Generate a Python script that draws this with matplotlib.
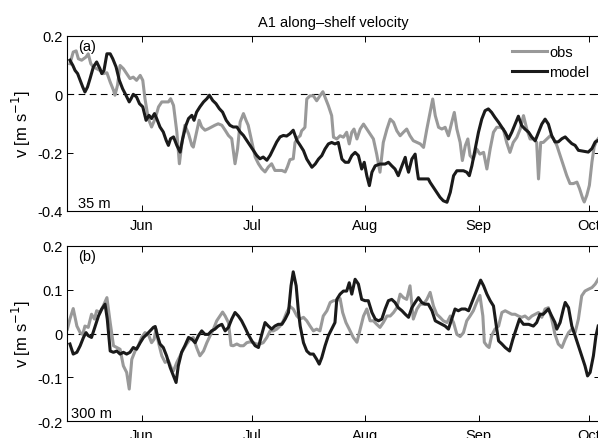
import numpy as np
import matplotlib
matplotlib.use('Agg')
import matplotlib.pyplot as plt

plt.rcParams['font.family'] = ['Liberation Sans', 'DejaVu Sans']

# days since 1 June, velocity [m/s]
obs_35 = [(-19.7,0.105),(-18.8,0.145),(-18.0,0.149),(-17.4,0.122),(-16.5,0.117),(-15.3,0.128),
          (-14.7,0.139),(-14.0,0.105),(-13.3,0.094),(-12.4,0.088),(-11.5,0.082),(-10.6,0.071),
          (-9.6,0.074),(-8.7,0.042),(-7.8,0.014),(-7.4,-0.003),(-6.7,0.031),(-6.0,0.099),
          (-5.1,0.088),(-4.2,0.071),(-3.3,0.054),(-2.4,0.059),(-1.5,0.048),(-0.5,0.065),
          (0.2,0.048),(0.8,-0.015),(1.7,-0.083),(2.6,-0.112),(3.6,-0.083),(4.5,-0.043),
          (5.4,-0.026),(6.3,-0.026),(7.2,-0.026),(7.8,-0.015),(8.6,-0.038),(9.5,-0.129),
          (10.2,-0.238),(10.8,-0.175),(11.7,-0.106),(12.7,-0.135),(13.6,-0.175),(14.0,-0.181),
          (14.9,-0.129),(15.6,-0.089),(16.3,-0.112),(17.2,-0.123),(18.1,-0.118),(19.0,-0.112),
          (19.9,-0.106),(20.8,-0.101),(21.8,-0.106),(22.7,-0.123),(23.6,-0.141),(24.5,-0.152),
          (25.4,-0.238),(26.1,-0.186),(26.8,-0.095),(27.7,-0.066),(28.4,-0.089),(29.0,-0.106),
          (30.0,-0.163),(30.9,-0.215),(31.8,-0.238),(32.7,-0.255),(33.6,-0.266),(34.5,-0.249),
          (35.4,-0.238),(36.3,-0.261),(37.2,-0.261),(38.2,-0.261),(39.1,-0.266),(39.7,-0.249),
          (40.4,-0.224),(41.3,-0.221),(41.8,-0.165),(42.7,-0.147),(43.2,-0.142),(43.6,-0.125),
          (44.1,-0.119),(44.5,-0.113),(45.0,-0.016),(45.9,-0.005),(46.8,-0.005),(47.7,-0.022),
          (48.6,-0.005),(49.4,0.009),(50.0,-0.010),(50.9,-0.039),(51.8,-0.073),(52.3,-0.147),
          (53.2,-0.153),(54.1,-0.142),(55.0,-0.147),(55.9,-0.130),(56.6,-0.170),(57.3,-0.130),
          (57.9,-0.119),(58.7,-0.153),(59.6,-0.119),(60.5,-0.102),(61.4,-0.119),(62.3,-0.136),
          (63.2,-0.153),(64.1,-0.205),(65.0,-0.267),(65.9,-0.165),(66.9,-0.119),(67.8,-0.085),
          (68.7,-0.096),(69.6,-0.125),(70.5,-0.142),(71.4,-0.130),(72.3,-0.119),(73.2,-0.142),
          (74.1,-0.159),(75.1,-0.165),(76.0,-0.170),(76.9,-0.182),(77.8,-0.119),(78.7,-0.062),
          (79.4,-0.016),(80.1,-0.073),(81.0,-0.113),(81.9,-0.119),(82.8,-0.113),(83.7,-0.142),
          (84.6,-0.096),(85.3,-0.062),(86.0,-0.119),(86.9,-0.165),(87.5,-0.227),(88.3,-0.176),
          (89.0,-0.153),(89.6,-0.210),(90.5,-0.222),(91.4,-0.187),(92.3,-0.205),(93.3,-0.199),
          (94.2,-0.256),(95.1,-0.187),(96.0,-0.130),(96.9,-0.113),(97.8,-0.113),(98.7,-0.119),
          (99.6,-0.165),(100.5,-0.199),(101.4,-0.165),(102.4,-0.147),(103.3,-0.119),(104.2,-0.073),
          (105.1,-0.119),(106.0,-0.153),(106.9,-0.153),(107.8,-0.165),(108.3,-0.290),(108.9,-0.165),
          (109.6,-0.165),(110.6,-0.153),(111.5,-0.142),(112.4,-0.152),(113.3,-0.175),(114.2,-0.209),
          (115.1,-0.243),(116.0,-0.278),(116.9,-0.306),(117.8,-0.306),(118.8,-0.301),(119.5,-0.323),
          (120.4,-0.358),(120.8,-0.369),(121.5,-0.346),(122.2,-0.312),(122.9,-0.232),(123.5,-0.181),
          (124.2,-0.158),(124.6,-0.152)]

model_35 = [(-19.7,0.117),(-18.9,0.099),(-18.3,0.082),(-17.6,0.071),(-16.9,0.048),(-16.2,0.025),
            (-15.6,0.008),(-14.9,0.025),(-14.2,0.054),(-13.3,0.094),(-12.4,0.111),(-11.5,0.088),
            (-11.0,0.071),(-10.4,0.082),(-9.6,0.139),(-8.7,0.139),(-8.0,0.122),(-7.1,0.094),
            (-6.2,0.048),(-5.3,0.019),(-4.4,-0.003),(-3.5,-0.026),(-3.0,-0.015),(-2.4,0.000),
            (-1.5,-0.009),(-0.7,-0.032),(0.2,-0.043),(1.1,-0.089),(1.9,-0.072),(2.6,-0.083),
            (3.4,-0.066),(4.0,-0.083),(4.9,-0.112),(5.8,-0.129),(6.6,-0.158),(7.2,-0.175),
            (7.8,-0.152),(8.6,-0.146),(9.5,-0.175),(10.4,-0.198),(11.1,-0.152),(12.0,-0.106),
            (12.7,-0.083),(13.6,-0.072),(14.2,-0.089),(14.9,-0.061),(15.8,-0.043),(16.8,-0.026),
            (17.7,-0.015),(18.4,-0.003),(19.3,-0.021),(20.2,-0.032),(21.1,-0.049),(22.0,-0.061),
            (23.0,-0.089),(24.0,-0.106),(24.9,-0.112),(25.9,-0.112),(26.8,-0.129),(27.7,-0.141),
            (28.6,-0.158),(29.5,-0.175),(30.4,-0.192),(31.3,-0.209),(32.2,-0.221),(33.1,-0.215),
            (34.1,-0.226),(35.0,-0.209),(35.9,-0.186),(36.8,-0.163),(37.7,-0.146),(38.6,-0.141),
            (39.5,-0.143),(40.4,-0.135),(41.3,-0.123),(42.3,-0.158),(43.2,-0.175),(44.1,-0.193),
            (45.0,-0.222),(46.4,-0.250),(47.3,-0.239),(48.2,-0.222),(49.1,-0.210),(50.0,-0.187),
            (50.9,-0.170),(51.8,-0.165),(52.7,-0.170),(53.6,-0.165),(54.6,-0.222),(55.5,-0.233),
            (56.4,-0.233),(57.3,-0.210),(58.2,-0.199),(59.1,-0.210),(60.0,-0.256),(60.7,-0.233),
            (61.4,-0.279),(62.1,-0.313),(62.8,-0.267),(63.7,-0.245),(65.0,-0.239),(66.4,-0.239),
            (67.3,-0.233),(68.2,-0.245),(69.1,-0.256),(70.0,-0.279),(71.0,-0.245),(71.9,-0.216),
            (72.3,-0.245),(72.8,-0.267),(73.7,-0.222),(74.6,-0.205),(75.1,-0.256),(75.5,-0.290),
            (76.4,-0.290),(77.3,-0.290),(78.2,-0.290),(78.7,-0.302),(79.6,-0.319),(80.5,-0.336),
            (81.4,-0.353),(82.3,-0.365),(83.3,-0.370),(84.2,-0.336),(85.1,-0.279),(86.0,-0.262),
            (86.9,-0.262),(87.8,-0.262),(88.7,-0.267),(89.4,-0.279),(90.1,-0.245),(91.0,-0.187),
            (91.9,-0.130),(92.8,-0.085),(93.7,-0.056),(94.6,-0.050),(95.5,-0.062),(96.4,-0.079),
            (97.4,-0.096),(98.3,-0.113),(99.2,-0.130),(100.1,-0.153),(101.0,-0.130),(101.9,-0.102),
            (102.8,-0.075),(103.7,-0.107),(104.6,-0.119),(105.6,-0.130),(106.5,-0.147),(107.4,-0.159),
            (108.3,-0.130),(109.2,-0.102),(110.1,-0.085),(111.0,-0.102),(111.9,-0.141),(112.8,-0.163),
            (113.7,-0.163),(114.7,-0.152),(115.6,-0.146),(116.5,-0.158),(117.4,-0.169),(118.3,-0.175),
            (119.2,-0.192),(120.6,-0.195),(121.9,-0.198),(122.9,-0.186),(123.8,-0.163),(124.6,-0.158)]

obs_300 = [(-20.4,0.010),(-19.7,0.033),(-18.8,0.057),(-17.8,0.017),(-16.9,0.002),(-16.2,-0.002),
           (-15.6,0.017),(-14.7,0.014),(-13.8,0.044),(-13.0,0.033),(-12.4,0.052),(-11.5,0.048),
           (-10.6,0.063),(-9.6,0.082),(-8.7,0.025),(-7.8,-0.028),(-6.9,-0.032),(-6.0,-0.036),
           (-5.1,-0.074),(-4.2,-0.089),(-3.5,-0.127),(-2.8,-0.059),(-1.9,-0.040),(-1.0,-0.028),
           (-0.1,-0.009),(0.8,0.002),(1.7,-0.002),(2.6,-0.021),(3.3,-0.013),(3.8,0.010),
           (4.5,-0.021),(5.4,-0.051),(6.3,-0.066),(7.2,-0.062),(8.1,-0.081),(8.6,-0.085),
           (9.5,-0.066),(10.4,-0.051),(11.3,-0.036),(12.2,-0.024),(13.1,-0.013),(14.0,-0.009),
           (14.9,-0.032),(15.8,-0.051),(16.8,-0.040),(17.7,-0.021),(18.6,-0.005),(19.5,0.010),
           (20.4,0.029),(21.3,0.040),(22.0,0.049),(22.7,0.040),(23.6,0.025),(24.3,-0.027),
           (24.9,-0.028),(25.9,-0.024),(26.8,-0.028),(27.7,-0.028),(28.6,-0.021),(29.5,-0.019),
           (30.4,-0.021),(31.3,-0.024),(32.2,-0.024),(33.1,-0.021),(34.1,-0.009),(35.0,0.006),
           (35.9,0.006),(36.8,0.010),(37.7,0.017),(38.6,0.029),(39.5,0.048),(40.4,0.062),
           (41.3,0.056),(42.3,0.040),(43.2,0.033),(44.1,0.037),(45.0,0.029),(45.9,0.017),
           (46.8,0.006),(47.7,0.010),(48.6,0.006),(49.5,0.040),(50.5,0.052),(51.4,0.071),
           (52.3,0.075),(53.2,0.075),(54.1,0.080),(54.8,0.048),(55.7,0.025),(56.6,0.010),
           (57.7,-0.009),(58.7,-0.020),(59.6,0.010),(60.5,0.040),(61.4,0.056),(62.3,0.029),
           (63.2,0.029),(64.1,0.021),(65.0,0.014),(65.9,0.025),(66.9,0.040),(67.8,0.040),
           (68.7,0.048),(69.6,0.059),(70.5,0.090),(71.4,0.082),(72.3,0.078),(73.2,0.109),
           (74.1,0.033),(75.1,0.056),(76.0,0.067),(76.9,0.067),(77.8,0.078),(78.7,0.094),
           (79.6,0.063),(80.5,0.044),(81.4,0.037),(82.3,0.029),(83.3,0.025),(84.2,0.040),
           (85.1,0.025),(86.0,-0.002),(86.9,-0.007),(87.8,0.002),(88.7,0.029),(89.6,0.040),
           (90.5,0.052),(91.4,0.071),(92.3,0.087),(93.1,0.040),(93.5,-0.020),(94.2,-0.028),
           (94.8,-0.032),(95.5,-0.005),(96.4,0.010),(97.4,0.017),(98.3,0.048),(99.2,0.052),
           (100.1,0.048),(101.0,0.044),(101.9,0.044),(102.8,0.040),(103.7,0.037),(104.6,0.040),
           (105.6,0.033),(106.5,0.040),(107.4,0.044),(108.3,0.048),(109.2,0.037),(110.1,0.056),
           (111.0,0.059),(111.9,0.033),(112.8,-0.002),(113.7,-0.024),(114.7,-0.032),(115.6,-0.013),
           (116.5,0.002),(117.4,0.010),(118.3,0.002),(119.2,0.033),(120.1,0.086),(121.0,0.097),
           (121.9,0.101),(122.9,0.105),(123.8,0.113),(124.6,0.124)]

model_300 = [(-19.7,-0.024),(-18.8,-0.047),(-17.8,-0.043),(-16.9,-0.028),(-16.0,-0.009),(-15.3,0.002),
             (-14.7,-0.005),(-13.8,-0.009),(-12.8,0.017),(-11.9,0.040),(-11.0,0.056),(-10.1,0.067),
             (-9.5,0.033),(-8.7,-0.040),(-7.8,-0.043),(-6.9,-0.040),(-6.0,-0.047),(-5.1,-0.043),
             (-4.2,-0.047),(-3.3,-0.043),(-2.4,-0.032),(-1.5,-0.036),(-0.5,-0.021),(0.4,-0.009),
             (1.3,-0.002),(2.2,0.006),(3.1,0.014),(3.6,0.016),(4.2,-0.005),(4.9,-0.024),
             (5.8,-0.032),(6.7,-0.051),(7.7,-0.078),(8.6,-0.097),(9.3,-0.112),(9.9,-0.074),
             (10.8,-0.043),(11.7,-0.028),(12.7,-0.009),(13.6,-0.013),(14.5,-0.021),(15.4,-0.005),
             (16.3,0.006),(17.2,-0.002),(18.1,-0.002),(19.0,0.006),(19.9,0.010),(20.8,0.017),
             (21.8,0.021),(22.7,0.006),(23.6,0.014),(24.5,0.033),(25.4,0.048),(26.3,0.040),
             (27.2,0.029),(28.1,0.014),(29.0,-0.002),(30.0,-0.017),(30.9,-0.028),(31.8,-0.032),
             (32.7,-0.002),(33.6,0.025),(34.5,0.017),(35.4,0.010),(36.3,0.017),(37.2,0.021),
             (38.2,0.021),(39.1,0.033),(40.0,0.048),(40.7,0.109),(41.3,0.141),(42.1,0.109),
             (42.7,0.052),(43.2,0.017),(44.1,-0.021),(45.0,-0.040),(45.9,-0.047),(46.8,-0.047),
             (47.7,-0.059),(48.4,-0.070),(49.1,-0.055),(50.0,-0.028),(50.9,-0.005),(51.8,0.010),
             (52.7,0.025),(53.2,0.078),(54.1,0.090),(55.0,0.097),(55.9,0.097),(56.6,0.116),
             (57.3,0.090),(58.2,0.124),(59.1,0.113),(60.0,0.078),(60.9,0.075),(61.8,0.075),
             (62.8,0.048),(63.7,0.033),(64.6,0.029),(65.5,0.033),(66.4,0.056),(67.3,0.075),
             (68.2,0.078),(69.1,0.071),(70.0,0.059),(71.0,0.052),(71.9,0.044),(72.8,0.037),
             (73.7,0.059),(74.6,0.071),(75.5,0.082),(76.4,0.071),(77.3,0.067),(78.2,0.067),
             (79.2,0.052),(80.1,0.029),(81.0,0.025),(81.9,0.021),(82.8,0.017),(83.7,0.010),
             (84.6,0.033),(85.5,0.056),(86.4,0.052),(87.3,0.056),(88.3,0.056),(89.2,0.052),
             (90.1,0.071),(91.0,0.090),(91.9,0.109),(92.5,0.122),(93.3,0.109),(94.2,0.090),
             (95.1,0.075),(96.0,0.063),(96.9,0.010),(97.4,-0.017),(98.3,-0.024),(99.2,-0.032),
             (100.4,-0.040),(101.3,-0.013),(102.2,0.010),(103.1,0.033),(104.2,0.021),(105.6,0.021),
             (106.9,0.017),(107.8,0.025),(108.7,0.044),(109.6,0.044),(111.0,0.056),(111.9,0.040),
             (112.8,0.025),(113.3,0.010),(114.2,0.025),(115.1,0.056),(115.6,0.071),(116.5,0.059),
             (117.4,0.017),(118.3,-0.005),(119.2,-0.028),(120.1,-0.051),(121.0,-0.074),(121.7,-0.097),
             (122.4,-0.089),(123.3,-0.051),(124.0,-0.005),(124.6,0.017)]

month_days = [0, 30, 61, 92, 122]
month_names = ['Jun', 'Jul', 'Aug', 'Sep', 'Oct']

panels = [
    (obs_35, model_35, [-0.4, 0.2], [-0.4, -0.2, 0, 0.2], '(a)', '35 m'),
    (obs_300, model_300, [-0.2, 0.2], [-0.2, -0.1, 0, 0.1, 0.2], '(b)', '300 m'),
]

fig = plt.figure(figsize=(5.98, 4.39), dpi=100)
W, H = 598.0, 439.0
boxes = [(67, 37, 600, 212), (67, 247, 600, 422)]

gray = '#999999'
black = '#1a1a1a'

for i, (obs, model, ylim, yticks, tag, depth) in enumerate(panels):
    x0, y0, x1, y1 = boxes[i]
    ax = fig.add_axes([x0 / W, 1 - y1 / H, (x1 - x0) / W, (y1 - y0) / H])
    od, ov = np.array(obs).T
    md, mv = np.array(model).T
    ax.axhline(0, color='k', lw=0.8, ls=(0, (6, 4)), zorder=1)
    ax.plot(od, ov, color=gray, lw=2.2, label='obs', zorder=2)
    ax.plot(md, mv, color=black, lw=2.2, label='model', zorder=3)
    ax.set_xlim(-20.5, 125.1)
    ax.set_ylim(ylim)
    ax.set_yticks(yticks)
    ax.set_yticklabels(['0' if t == 0 else '%g' % t for t in yticks])
    ax.set_xticks(month_days)
    ax.set_xticklabels(month_names)
    ax.tick_params(direction='in', top=True, right=True, length=4, width=0.7,
                   labelsize=10.5, pad=3)
    ax.tick_params(axis='x', pad=5)
    for s in ax.spines.values():
        s.set_linewidth(0.8)
    ax.set_ylabel('v [m s$^{-1}$]', fontsize=12, labelpad=3)
    ax.text(0.021, 0.945, tag, transform=ax.transAxes, fontsize=10.5, va='center', ha='left')
    ax.text(0.021 if i == 0 else 0.008, 0.046, depth, transform=ax.transAxes,
            fontsize=10.5, va='center', ha='left')
    if i == 0:
        ax.set_title('A1 along\u2013shelf velocity', fontsize=10.5, pad=7)
        ax.legend(loc='upper left', bbox_to_anchor=(512 / W, 1 - 46 / H),
                  bbox_transform=fig.transFigure, frameon=False, fontsize=10.5,
                  handlelength=2.4, handletextpad=0.15, labelspacing=0.4,
                  borderpad=0, borderaxespad=0)

fig.savefig('out.png', dpi=100)
